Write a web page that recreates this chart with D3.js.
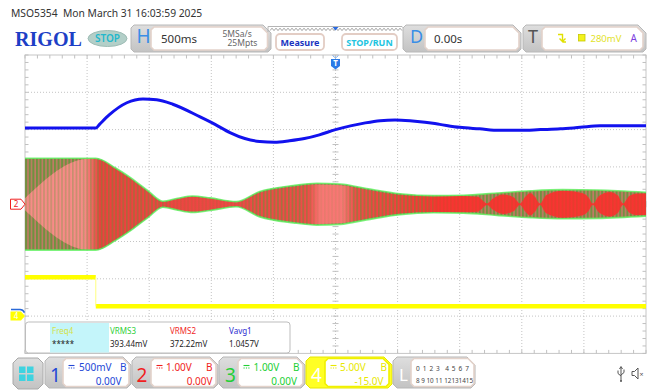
<!DOCTYPE html>
<html><head><meta charset="utf-8">
<script src="https://cdn.jsdelivr.net/npm/d3@7"></script>
<style>
html,body{margin:0;padding:0;background:#fff;}
svg{display:block;font-family:"Noto Sans",sans-serif;}
</style></head><body>
<svg id="scope" width="654" height="390"></svg>
<script>
// Horizontal: 500 ms/div, 10 divisions, delay 0 s. Vertical: 8 divisions.
const timeDivs = [-2.5, -2, -1.5, -1, -0.5, 0, 0.5, 1, 1.5, 2, 2.5];
const voltDivs = [-4, -3, -2, -1, 0, 1, 2, 3, 4];

// CH1 (500 mV/div, offset 0 V) trace, seconds / volts
const ch1Time = [-2.5, -1.93, -1.9, -1.82, -1.68, -1.55, -1.44, -1.31, -1.09, -0.97, -0.85, -0.73, -0.61, -0.49, -0.37, -0.25, -0.13, 0, 0.12, 0.24, 0.36, 0.48, 0.6, 0.72, 0.84, 1.0, 1.16, 1.32, 1.49, 1.65, 1.81, 1.97, 2.13, 2.29, 2.5];
const ch1Volt = [1.02, 1.02, 1.07, 1.2, 1.36, 1.41, 1.40, 1.34, 1.17, 1.07, 0.96, 0.88, 0.84, 0.83, 0.85, 0.88, 0.93, 1.0, 1.05, 1.09, 1.12, 1.13, 1.12, 1.10, 1.07, 1.03, 1.01, 0.99, 0.99, 1.0, 1.01, 1.03, 1.05, 1.05, 1.05];

// CH3 (1 V/div) carrier envelope: peak amplitude in volts
const ch3Time = [-2.5, -1.93, -1.77, -1.65, -1.51, -1.39, -1.27, -1.15, -1.01, -0.80, -0.61, -0.34, -0.15, 0.04, 0.25, 0.52, 0.79, 1.03, 1.30, 1.57, 1.83, 2.11, 2.5];
const ch3Amp  = [1.23, 1.23, 0.97, 0.71, 0.36, 0.08, 0.16, 0.22, 0.17, 0.07, 0.34, 0.50, 0.56, 0.54, 0.42, 0.28, 0.23, 0.24, 0.30, 0.36, 0.39, 0.38, 0.32];

// CH2 (1 V/div) carrier envelope as displayed: peak amplitude in volts
const ch2Time = [-2.5, -1.99, -1.93, -1.77, -1.65, -1.51, -1.39, -1.27, -1.15, -1.01, -0.80, -0.61, -0.34, -0.15, 0.04, 0.25, 0.52, 0.785, 1.0, 1.147, 1.172, 1.22, 1.268, 1.349, 1.437, 1.486, 1.526, 1.566, 1.606, 1.647, 1.695, 1.832, 1.985, 2.033, 2.073, 2.121, 2.21, 2.274, 2.315, 2.364, 2.428, 2.5];
const ch2Amp  = [0.16, 1.22, 1.21, 0.95, 0.68, 0.33, 0.06, 0.14, 0.20, 0.15, 0.05, 0.31, 0.47, 0.53, 0.51, 0.39, 0.25, 0.21, 0.22, 0.20, 0.14, 0.02, 0.15, 0.26, 0.18, 0.02, 0.19, 0.30, 0.20, 0.02, 0.24, 0.36, 0.30, 0.20, 0.02, 0.22, 0.33, 0.23, 0.02, 0.22, 0.29, 0.29];

// CH4 (5 V/div, offset -15 V) logic level
const ch4Time = [-2.5, -1.93, 2.5];
const ch4Volt = [5.2, 1.31, 1.31];

// Measurement readouts
const measNames  = ["Freq4", "VRMS3", "VRMS2", "Vavg1"];
const measValues = ["*****", "393.44mV", "372.22mV", "1.0457V"];

// Channel settings
const chNames   = ["1", "2", "3", "4"];
const chScale   = ["500mV", "1.00V", "1.00V", "5.00V"];
const chOffset  = ["0.00V", "0.00V", "0.00V", "-15.0V"];
const chColor   = ["#2347d6", "#f01e1e", "#22cf35", "#e8e800"];

const svg = d3.select("#scope");
const plot = {left: 25, right: 646, top: 55, bottom: 353.4};
const x = d3.scaleLinear().domain([-2.5, 2.5]).range([plot.left, plot.right]);
const yDiv = d3.scaleLinear().domain([-4, 4]).range([plot.bottom, plot.top]);
function chY(vPerDiv, offset) {
  return d3.scaleLinear().domain([-4 * vPerDiv - offset, 4 * vPerDiv - offset]).range([plot.bottom, plot.top]);
}
const y1 = chY(0.5, 0), y2 = chY(1, 0), y3 = chY(1, 0), y4 = chY(5, -15);

const defs = svg.append("defs");
const tabGrad = defs.append("linearGradient").attr("id", "tabGrad").attr("x1", 0).attr("x2", 0).attr("y1", 0).attr("y2", 1);
tabGrad.append("stop").attr("offset", 0).attr("stop-color", "#dedede");
tabGrad.append("stop").attr("offset", 1).attr("stop-color", "#c3c3c3");

// hatch texture of the dense carrier traces
const pat = defs.append("pattern").attr("id", "hatch").attr("patternUnits", "userSpaceOnUse").attr("width", 3.6).attr("height", 10);
pat.append("rect").attr("width", 3.6).attr("height", 10).attr("fill", "#c27a66");
pat.append("rect").attr("width", 2.0).attr("height", 10).attr("fill", "#768f42");
const pat2 = defs.append("pattern").attr("id", "hatchOnly").attr("patternUnits", "userSpaceOnUse").attr("width", 3.6).attr("height", 10);
pat2.append("rect").attr("width", 1.6).attr("height", 10).attr("fill", "#5f9a3a");

function xGradient(id, stops, key) {
  const g = defs.append("linearGradient").attr("id", id).attr("gradientUnits", "userSpaceOnUse")
    .attr("x1", plot.left).attr("x2", plot.right).attr("y1", 0).attr("y2", 0);
  stops.forEach(s => {
    const st = g.append("stop").attr("offset", (x(s[0]) - plot.left) / (plot.right - plot.left));
    if (key === "color") st.attr("stop-color", s[1]);
    else st.attr("stop-color", "#fff").attr("stop-opacity", s[1]);
  });
}
xGradient("redShade", [[-2.5, "#ff8c8c"], [-2.02, "#ff8c8c"], [-1.9, "#f23a3a"], [-0.22, "#f54646"], [-0.12, "#ff7676"], [0.06, "#ff7676"], [0.16, "#f54646"], [0.8, "#ff2c2c"], [2.5, "#ff2c2c"]], "color");
xGradient("hatchFade", [[-2.5, 0.3], [-2.02, 0.3], [-1.9, 0.4], [-1.42, 0.4], [-1.3, 0.1], [-0.8, 0.1], [-0.62, 0.55], [-0.26, 0.5], [-0.15, 0.06], [0.05, 0.06], [0.16, 0.5], [0.72, 0.45], [0.84, 0.08], [2.5, 0.08]], "alpha");
defs.append("mask").attr("id", "hatchMask").append("rect")
  .attr("x", plot.left).attr("y", plot.top).attr("width", plot.right - plot.left).attr("height", plot.bottom - plot.top)
  .attr("fill", "url(#hatchFade)");

// ---------- graticule ----------
const grid = svg.append("g");
grid.selectAll(".vg").data(timeDivs.slice(1, -1)).join("line")
  .attr("x1", d => x(d)).attr("x2", d => x(d)).attr("y1", plot.top).attr("y2", plot.bottom)
  .attr("stroke", "#c4c4c4").attr("stroke-dasharray", "1,2");
grid.selectAll(".hg").data(voltDivs.slice(1, -1)).join("line")
  .attr("y1", d => yDiv(d)).attr("y2", d => yDiv(d)).attr("x1", plot.left).attr("x2", plot.right)
  .attr("stroke", "#c4c4c4").attr("stroke-dasharray", "1,2");
grid.append("rect").attr("x", plot.left).attr("y", plot.top).attr("width", plot.right - plot.left).attr("height", plot.bottom - plot.top)
  .attr("fill", "none").attr("stroke", "#c6c6c6");
const minorT = d3.range(-2.5, 2.5001, 0.1);
const minorV = d3.range(-4, 4.001, 0.2);
const tk = grid.append("g").attr("stroke", "#c0c0c0");
minorT.forEach(t => {
  tk.append("line").attr("x1", x(t)).attr("x2", x(t)).attr("y1", plot.top).attr("y2", plot.top + 3.5);
  tk.append("line").attr("x1", x(t)).attr("x2", x(t)).attr("y1", plot.bottom).attr("y2", plot.bottom - 3.5);
  tk.append("line").attr("x1", x(t)).attr("x2", x(t)).attr("y1", yDiv(0) - 3).attr("y2", yDiv(0) + 3);
});
minorV.forEach(v => {
  tk.append("line").attr("y1", yDiv(v)).attr("y2", yDiv(v)).attr("x1", plot.left).attr("x2", plot.left + 3.5);
  tk.append("line").attr("y1", yDiv(v)).attr("y2", yDiv(v)).attr("x1", plot.right).attr("x2", plot.right - 3.5);
  tk.append("line").attr("y1", yDiv(v)).attr("y2", yDiv(v)).attr("x1", x(0) - 3).attr("x2", x(0) + 3);
});

// ---------- traces ----------
const tr = svg.append("g");
const env3 = ch3Time.map((t, i) => ({t, a: ch3Amp[i]}));
const env2 = ch2Time.map((t, i) => ({t, a: ch2Amp[i]}));
const area3 = d3.area().x(d => x(d.t)).y0(d => y3(-d.a)).y1(d => y3(d.a)).curve(d3.curveMonotoneX);
const area2 = d3.area().x(d => x(d.t)).y0(d => y2(-d.a)).y1(d => y2(d.a)).curve(d3.curveMonotoneX);
tr.append("path").attr("d", area3(env3)).attr("fill", "url(#hatch)");
tr.append("path").attr("d", area2(env2)).attr("fill", "url(#redShade)").attr("opacity", 0.9);
tr.append("path").attr("d", area3(env3)).attr("fill", "url(#hatchOnly)").attr("mask", "url(#hatchMask)");
const edge3 = d3.line().x(d => x(d.t)).curve(d3.curveMonotoneX);
tr.append("path").attr("d", edge3.y(d => y3(d.a))(env3)).attr("fill", "none").attr("stroke", "#5cf05c").attr("stroke-width", 1.6).attr("opacity", 0.8);
tr.append("path").attr("d", edge3.y(d => y3(-d.a))(env3)).attr("fill", "none").attr("stroke", "#5cf05c").attr("stroke-width", 1.6).attr("opacity", 0.8);

const ch1Pts = ch1Time.map((t, i) => [x(t), y1(ch1Volt[i])]);
tr.append("path").attr("d", d3.line().curve(d3.curveMonotoneX)(ch1Pts))
  .attr("fill", "none").attr("stroke", "#1212ee").attr("stroke-width", 3);

// CH4 level runs, joined by a faint edge
const runs = ch4Time.slice(0, -1).map((t, i) => ({t0: t, t1: ch4Time[i + 1], v: ch4Volt[i]}));
tr.selectAll(".ch4").data(runs).join("line")
  .attr("x1", d => x(d.t0)).attr("x2", d => x(d.t1)).attr("y1", d => y4(d.v)).attr("y2", d => y4(d.v))
  .attr("stroke", "#ffff00").attr("stroke-width", 4.5);
runs.slice(1).forEach((r, i) => {
  tr.append("line").attr("x1", x(r.t0)).attr("x2", x(r.t0)).attr("y1", y4(runs[i].v)).attr("y2", y4(r.v))
    .attr("stroke", "#ffff80").attr("stroke-width", 1);
});

// ---------- channel / trigger markers ----------
const mk = svg.append("g");
const m2 = yDiv(0);
mk.append("path").attr("d", `M10.5,${m2 - 5} H21 L25,${m2} L21,${m2 + 5} H10.5 Z`).attr("fill", "#fff").attr("stroke", "#f02020");
mk.append("text").attr("x", 16).attr("y", m2 + 3).attr("text-anchor", "middle").attr("font-size", 8).attr("fill", "#f02020").text("2");
const m4 = y4(0);
mk.append("path").attr("d", `M10.5,${m4 - 4.5} H21 L25,${m4} L21,${m4 + 4.5} H10.5 Z`).attr("fill", "#ffff00");
mk.append("text").attr("x", 16).attr("y", m4 + 3).attr("text-anchor", "middle").attr("font-size", 8).attr("fill", "#fff").text("4");
mk.append("path").attr("d", `M11,${m4 - 6.5} H20 Q23,${m4 - 6.5} 24.5,${m4 - 3.5}`).attr("fill", "none").attr("stroke", "#2a6ad8").attr("stroke-width", 1.5);
const tx = x(0);
mk.append("path").attr("d", `M${tx - 3},55.5 L${tx},58 L${tx + 3},55.5`).attr("fill", "none").attr("stroke", "#7fb0f0");
mk.append("path").attr("d", `M${tx - 4.5},59 H${tx + 4.5} V66 L${tx},69.5 L${tx - 4.5},66 Z`).attr("fill", "#2a7ae6");
mk.append("text").attr("x", tx).attr("y", 66).attr("text-anchor", "middle").attr("font-size", 8).attr("font-weight", "bold").attr("fill", "#fff").text("T");

// ---------- measurement panel ----------
const mp = svg.append("g");
mp.append("rect").attr("x", 25.5).attr("y", 322).attr("width", 264.5).attr("height", 31).attr("rx", 3)
  .attr("fill", "#fff").attr("stroke", "#bdbdbd");
mp.append("rect").attr("x", 50).attr("y", 323).attr("width", 59).attr("height", 29.5).attr("fill", "#c4f5fa");
const measX = [52, 110, 170, 229];
const measColor = ["#d4e24a", "#2fcf3a", "#f02828", "#2a2ad0"];
measNames.forEach((n, i) => {
  mp.append("text").attr("x", measX[i]).attr("y", 333.5).attr("font-size", 8).attr("fill", measColor[i]).text(n);
  mp.append("text").attr("x", measX[i]).attr("y", 346.5).attr("font-size", 8).attr("fill", "#222").text(measValues[i]);
});

// ---------- header ----------
function chamfer(x0, y0, w, h, c, ctr) {
  return `M${x0 + c},${y0} H${x0 + w - ctr} L${x0 + w},${y0 + ctr} V${y0 + h - c} L${x0 + w - c},${y0 + h} H${x0 + c} L${x0},${y0 + h - c} V${y0 + c} Z`;
}
const hd = svg.append("g");
hd.append("text").attr("x", 11).attr("y", 16.5).attr("font-size", 10.3).attr("fill", "#333").style("white-space", "pre")
  .text("MSO5354  Mon March 31 16:03:59 2025");
hd.append("text").attr("x", 15).attr("y", 45.5).attr("font-family", "'Liberation Serif', serif").attr("font-weight", "bold")
  .attr("font-size", 21).attr("fill", "#1d3fc6").attr("textLength", 67).attr("lengthAdjust", "spacingAndGlyphs").text("RIGOL");
hd.append("ellipse").attr("cx", 107.5).attr("cy", 38.5).attr("rx", 19.5).attr("ry", 8).attr("fill", "#b3cfc8").attr("stroke", "#9ebcb5");
hd.append("text").attr("x", 107.5).attr("y", 42.3).attr("text-anchor", "middle").attr("font-size", 10).attr("font-weight", 600).attr("fill", "#22b8cc").text("STOP");

// timebase tab
hd.append("path").attr("d", chamfer(131, 25, 140, 27, 3, 8)).attr("fill", "url(#tabGrad)").attr("stroke", "#b8b8b8");
hd.append("text").attr("x", 136.5).attr("y", 43).attr("font-size", 19).attr("fill", "#3a8ee6").text("H");
hd.append("path").attr("d", chamfer(151, 27, 116.5, 23, 3, 6)).attr("fill", "#fff").attr("stroke", "#e3d2ca").attr("stroke-width", 1.6);
hd.append("text").attr("x", 161).attr("y", 43).attr("font-size", 11.5).attr("fill", "#333").text("500ms");
hd.append("text").attr("x", 222.5).attr("y", 36.5).attr("font-size", 8.5).attr("fill", "#666").text("5MSa/s");
hd.append("text").attr("x", 227.5).attr("y", 46).attr("font-size", 8.5).attr("fill", "#666").text("25Mpts");

// memory strip
hd.append("path").attr("d", "M268,32 V26.5 H402 L407,32").attr("fill", "none").attr("stroke", "#b4b4b4");
const zig = d3.range(270, 404, 2).map((px, i) => [px, i % 2 ? 28.2 : 30.6]);
hd.append("path").attr("d", d3.line()(zig)).attr("fill", "none").attr("stroke", "#8a8a8a").attr("stroke-width", 0.8);
hd.append("path").attr("d", `M${tx - 3},27 H${tx + 3} L${tx},30.5 Z`).attr("fill", "#2a6ae0");

// buttons
hd.append("rect").attr("x", 276).attr("y", 34).attr("width", 48).attr("height", 16).attr("rx", 4).attr("fill", "#fff").attr("stroke", "#e3cdc4").attr("stroke-width", 1.8);
hd.append("text").attr("x", 300).attr("y", 45.5).attr("text-anchor", "middle").attr("font-size", 9).attr("font-weight", "bold").attr("fill", "#1a33c0").text("Measure");
hd.append("rect").attr("x", 342).attr("y", 34).attr("width", 55).attr("height", 16).attr("rx", 4).attr("fill", "#fff").attr("stroke", "#e3cdc4").attr("stroke-width", 1.8);
hd.append("text").attr("x", 369.5).attr("y", 45.5).attr("text-anchor", "middle").attr("font-size", 9).attr("font-weight", "bold").attr("fill", "#22c4e0").text("STOP/RUN");

// delay tab
hd.append("path").attr("d", chamfer(403, 25, 118, 27, 3, 8)).attr("fill", "url(#tabGrad)").attr("stroke", "#b8b8b8");
hd.append("text").attr("x", 410).attr("y", 43.3).attr("font-size", 18).attr("fill", "#3a8ee6").text("D");
hd.append("path").attr("d", chamfer(425, 27, 94, 23, 3, 6)).attr("fill", "#fff").attr("stroke", "#e3d2ca").attr("stroke-width", 1.6);
hd.append("text").attr("x", 434).attr("y", 42.7).attr("font-size", 11.5).attr("fill", "#333").text("0.00s");

// trigger tab
hd.append("path").attr("d", chamfer(523, 25, 123, 27, 3, 8)).attr("fill", "url(#tabGrad)").attr("stroke", "#b8b8b8");
hd.append("text").attr("x", 528).attr("y", 43).attr("font-size", 18).attr("fill", "#555").text("T");
hd.append("path").attr("d", chamfer(542, 27, 101, 23, 3, 6)).attr("fill", "#fff").attr("stroke", "#e3d2ca").attr("stroke-width", 1.6);
hd.append("path").attr("d", "M558,34.5 H562.5 V42 M559.5,38.5 L562.5,41.5 L565.5,38.5 M562.5,42 H566").attr("fill", "none").attr("stroke", "#e0e000").attr("stroke-width", 1.4);
hd.append("rect").attr("x", 578.5).attr("y", 34.5).attr("width", 6.5).attr("height", 6.5).attr("fill", "#f2f21c").attr("stroke", "#c8c800").attr("stroke-width", 0.8);
hd.append("text").attr("x", 590.5).attr("y", 41.7).attr("font-size", 9.5).attr("fill", "#e2e22a").text("280mV");
hd.append("text").attr("x", 630.5).attr("y", 42).attr("font-size", 10).attr("fill", "#7d3fe0").text("A");

// ---------- footer ----------
const ft = svg.append("g");
ft.append("path").attr("d", chamfer(13, 358, 30, 31, 5, 5)).attr("fill", "url(#tabGrad)").attr("stroke", "#a8a8a8");
[[19, 366.5], [27, 366.5], [19, 374.5], [27, 374.5]].forEach(p => {
  ft.append("rect").attr("x", p[0]).attr("y", p[1]).attr("width", 6.5).attr("height", 6.5).attr("fill", "#3fd3e0");
});
const tabX = [45, 132, 219, 306];
const innerX = [63, 151, 238, 325];
const innerW = [66, 65, 65, 64];
const numX = [50, 136.5, 225, 311];
const scaleX = [79, 166, 253.5, 340];
const bX = [120, 206, 293, 380.5];
const offEnd = [121.5, 212.5, 297, 383.5];
chNames.forEach((n, i) => {
  const isActive = i === 3;
  ft.append("path").attr("d", chamfer(tabX[i], 357, 86, 31, 4, 8))
    .attr("fill", isActive ? "#ffff24" : "url(#tabGrad)").attr("stroke", isActive ? "#e6e600" : "#b6b6b6");
  ft.append("text").attr("x", numX[i]).attr("y", 381.5).attr("font-size", 19).attr("fill", isActive ? "#fff" : chColor[i]).text(n);
  ft.append("path").attr("d", chamfer(innerX[i], 358.5, innerW[i], 28, 3, 6)).attr("fill", "#fff")
    .attr("stroke", isActive ? "#f0f000" : "#e3d2ca").attr("stroke-width", 1.6);
  const sx = innerX[i] + 5.5;
  ft.append("line").attr("x1", sx).attr("x2", sx + 6).attr("y1", 365.5).attr("y2", 365.5).attr("stroke", chColor[i]).attr("stroke-width", 1.1);
  ft.append("line").attr("x1", sx).attr("x2", sx + 6).attr("y1", 368).attr("y2", 368).attr("stroke", chColor[i]).attr("stroke-width", 1.1).attr("stroke-dasharray", "1.2,1.2");
  ft.append("text").attr("x", scaleX[i]).attr("y", 371).attr("font-size", 10).attr("fill", chColor[i]).text(chScale[i]);
  ft.append("text").attr("x", bX[i]).attr("y", 371).attr("font-size", 10).attr("fill", chColor[i]).text("B");
  ft.append("text").attr("x", offEnd[i]).attr("y", 384.5).attr("text-anchor", "end").attr("font-size", 10).attr("fill", chColor[i]).text(chOffset[i]);
});
// logic analyzer tab
ft.append("path").attr("d", chamfer(393, 357, 82, 31, 4, 8)).attr("fill", "url(#tabGrad)").attr("stroke", "#b6b6b6");
ft.append("text").attr("x", 399).attr("y", 380.5).attr("font-size", 17).attr("fill", "#fff").text("L");
ft.append("path").attr("d", chamfer(411, 358.5, 63, 28, 3, 6)).attr("fill", "#fff").attr("stroke", "#e3d2ca").attr("stroke-width", 1.6);
ft.append("text").attr("x", 416).attr("y", 371).attr("font-size", 6.5).attr("fill", "#444").attr("textLength", 53).style("white-space", "pre").text("0 1 2 3  4 5 6 7");
ft.append("text").attr("x", 416).attr("y", 383.3).attr("font-size", 6.5).attr("fill", "#444").attr("textLength", 57).attr("lengthAdjust", "spacingAndGlyphs").text("8 9 10 11 12131415");

// status icons
ft.append("path").attr("d", "M621,367.5 V381 M618,370.5 V373.5 L621,376 M624,369.5 V372.5 L621,375 M619.5,369 L621,366.5 L622.5,369")
  .attr("fill", "none").attr("stroke", "#555").attr("stroke-width", 1);
ft.append("circle").attr("cx", 621).attr("cy", 381).attr("r", 1).attr("fill", "#555");
ft.append("path").attr("d", "M632,371.5 H634.5 L638,368 V379 L634.5,375.5 H632 Z").attr("fill", "none").attr("stroke", "#555");
ft.append("text").attr("x", 639.5).attr("y", 376.5).attr("font-size", 7).attr("fill", "#555").text("×");
</script>
</body></html>
